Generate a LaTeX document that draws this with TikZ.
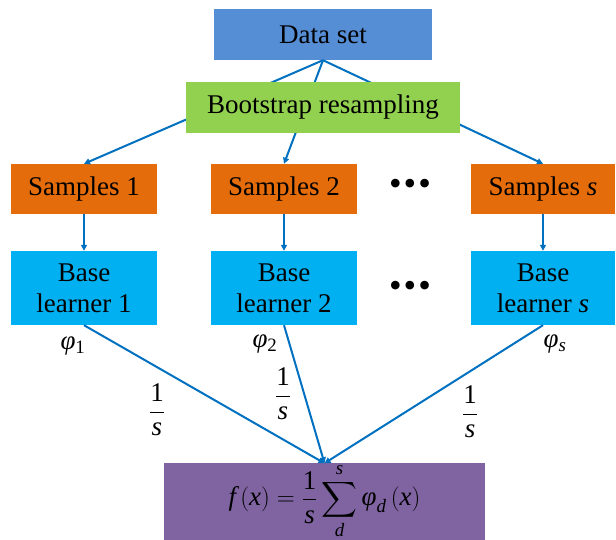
\documentclass[tikz,border=0pt]{standalone}
\usepackage{fontspec}
\setmainfont{Liberation Serif}
\usepackage{amsmath}
\usetikzlibrary{arrows.meta,positioning}
\definecolor{dsblue}{HTML}{558ED5}
\definecolor{bootgreen}{HTML}{92D050}
\definecolor{samporange}{HTML}{E46C0A}
\definecolor{basecyan}{HTML}{00B0F0}
\definecolor{outpurple}{HTML}{8064A2}
\definecolor{linkblue}{HTML}{0070C0}

\begin{document}
\begin{tikzpicture}[x=1pt, y=-1pt,
  every node/.style={font=\rmfamily\fontsize{27}{31}\selectfont, text=black},
  box/.style={rectangle, inner sep=0pt, align=center},
  sample/.style={box, fill=samporange, minimum width=146pt, minimum height=50pt},
  learner/.style={box, fill=basecyan, minimum width=146pt, minimum height=74pt},
  link/.style={-{Triangle[length=6pt, width=6pt]}, linkblue, line width=2pt},
  dots/.style={font=\rmfamily\fontsize{36}{36}\selectfont},
]
  \useasboundingbox (0,0) rectangle (616,539);
  \node[box, fill=dsblue, minimum width=218pt, minimum height=51pt] (data) at (323,34.5) {Data set};
  \node[sample] (s1) at (84,189) {Samples 1};
  \node[sample] (s2) at (284,189) {Samples 2};
  \node[sample, minimum width=144pt] (ss) at (543,189) {Samples \textit{s}};
  \node[dots] (d1) at (410,187) {•\hspace{2pt}•\hspace{2pt}•};
  \node[learner] (b1) at (84,288) {Base\\learner 1};
  \node[learner] (b2) at (284,288) {Base\\learner 2};
  \node[learner, minimum width=144pt] (bs) at (543,288) {Base\\learner \textit{s}};
  \node[dots] (d2) at (410,289) {•\hspace{2pt}•\hspace{2pt}•};
  \node[box, fill=outpurple, minimum width=321pt, minimum height=75pt] (f) at (324.5,501.5)
    {$\displaystyle\textit{f}\,(\textit{x})=\frac{\textrm{1}}{\textit{s}}\sum_{\textit{d}}^{\textit{s}}\textit{φ}_{\textit{d}}\,(\textit{x})$};

  % resampling
  \draw[link] (data.south) -- (s1.north);
  \draw[link] (data.south) -- (s2.north);
  \draw[link] (data.south) -- (ss.north);
  \node[box, fill=bootgreen, minimum width=274pt, minimum height=51pt] (boot) at (323,107.5) {Bootstrap resampling};

  % training
  \draw[link] (s1) -- (b1);
  \draw[link] (s2) -- (b2);
  \draw[link] (ss) -- (bs);

  % combining
  \draw[link] (b1.south) -- (f.north);
  \draw[link] (b2.south) -- (f.north);
  \draw[link] (bs.south) -- (f.north);
  \node (phi1) at (73,346) {\textit{φ}\textsubscript{1}};
  \node (phi2) at (265,344) {\textit{φ}\textsubscript{2}};
  \node (phis) at (555,344) {\textit{φ}\textsubscript{\textit{s}}};
  \node (w1) at (157,410) {$\dfrac{\textrm{1}}{\textit{s}}$};
  \node (w2) at (283,394) {$\dfrac{\textrm{1}}{\textit{s}}$};
  \node (ws) at (470,412) {$\dfrac{\textrm{1}}{\textit{s}}$};
\end{tikzpicture}
\end{document}
